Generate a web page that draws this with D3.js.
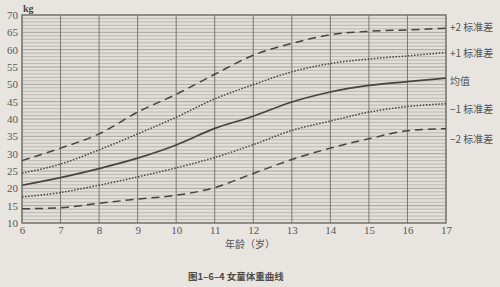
<!DOCTYPE html>
<html>
<head>
<meta charset="utf-8">
<script src="https://cdn.jsdelivr.net/npm/d3@7"></script>
<style>
  html, body { margin: 0; padding: 0; background: #e8e5e0; }
  svg { display: block; }
</style>
</head>
<body>
<svg id="chart" width="500" height="287"></svg>
<script>
// ages 6..17
var ages = [6, 7, 8, 9, 10, 11, 12, 13, 14, 15, 16, 17];

// weight (kg)
var plus2 = [28.0, 31.6, 35.7, 42.0, 47.1, 52.9, 58.4, 61.8, 64.3, 65.3, 65.7, 66.2];
var plus1 = [24.4, 27.0, 31.1, 35.7, 40.5, 45.8, 49.9, 53.6, 56.0, 57.3, 58.2, 59.2];
var mean = [20.9, 23.1, 25.7, 28.7, 32.5, 37.3, 40.8, 44.9, 47.8, 49.7, 50.8, 51.8];
var minus1 = [17.5, 18.8, 20.9, 23.3, 25.9, 28.9, 32.6, 36.7, 39.4, 42.0, 43.6, 44.4];
var minus2 = [14.1, 14.4, 15.7, 16.9, 18.0, 20.2, 24.3, 28.3, 31.6, 34.3, 36.6, 37.2];

var yTicks = [10, 15, 20, 25, 30, 35, 40, 45, 50, 55, 60, 65, 70];
var seriesLabels = ["+2 标准差", "+1 标准差", "均值", "\u22121 标准差", "\u22122 标准差"];
var labelPos = [66.5, 59, 51, 42.8, 34.3];

var svg = d3.select("#chart");
var m = { left: 22, right: 446, top: 15, bottom: 223 };

var x = d3.scaleLinear().domain([6, 17]).range([m.left, m.right]);
var y = d3.scaleLinear().domain([10, 70]).range([m.bottom, m.top]);

var serif = "'Liberation Serif', 'DejaVu Serif', serif";
var cjk = "'Noto Sans CJK SC', sans-serif";

// plot background, a touch darker than the paper
svg.append("rect")
  .attr("x", m.left).attr("y", m.top)
  .attr("width", m.right - m.left).attr("height", m.bottom - m.top)
  .attr("fill", "#e2dfda");

// horizontal grid, 1 kg
var g = svg.append("g");
g.selectAll("line.h")
  .data(d3.range(11, 70))
  .enter().append("line")
  .attr("x1", m.left).attr("x2", m.right)
  .attr("y1", function(d) { return y(d); })
  .attr("y2", function(d) { return y(d); })
  .attr("stroke", function(d) { return d % 5 === 0 ? "#96938e" : "#b0ada8"; })
  .attr("stroke-width", 0.8);

// vertical grid, 1 year
g.selectAll("line.v")
  .data(d3.range(7, 17))
  .enter().append("line")
  .attr("y1", m.top).attr("y2", m.bottom)
  .attr("x1", function(d) { return x(d); })
  .attr("x2", function(d) { return x(d); })
  .attr("stroke", "#7a7773")
  .attr("stroke-width", 1);

svg.append("rect")
  .attr("x", m.left).attr("y", m.top)
  .attr("width", m.right - m.left).attr("height", m.bottom - m.top)
  .attr("fill", "none").attr("stroke", "#6a6763").attr("stroke-width", 1.4);

// axes text
var xAxis = d3.axisBottom(x).tickValues(ages).tickSize(0).tickPadding(3).tickFormat(d3.format("d"));
var xa = svg.append("g").attr("transform", "translate(0," + m.bottom + ")").call(xAxis);
xa.select(".domain").remove();
xa.selectAll("text").attr("font-family", serif).attr("font-size", 11).attr("fill", "#5a5753");

var yAxis = d3.axisLeft(y).tickValues(yTicks).tickSize(0).tickPadding(4);
var ya = svg.append("g").attr("transform", "translate(" + m.left + ",0)").call(yAxis);
ya.select(".domain").remove();
ya.selectAll("text").attr("font-family", serif).attr("font-size", 11).attr("fill", "#5a5753");

svg.append("text").attr("x", 23).attr("y", 12)
  .attr("font-family", serif).attr("font-size", 10).attr("font-weight", "bold")
  .attr("fill", "#4a4743").text("kg");

// curves
var line = d3.line()
  .x(function(d, i) { return x(ages[i]); })
  .y(function(d) { return y(d); })
  .curve(d3.curveMonotoneX);

var curves = [
  { data: plus2, dash: "8,5", w: 1.5 },
  { data: plus1, dash: "1.5,1.6", w: 1.5 },
  { data: mean, dash: null, w: 1.7 },
  { data: minus1, dash: "1.5,1.6", w: 1.5 },
  { data: minus2, dash: "8,5", w: 1.5 }
];

svg.selectAll("path.curve")
  .data(curves)
  .enter().append("path")
  .attr("class", "curve")
  .attr("d", function(c) { return line(c.data); })
  .attr("fill", "none")
  .attr("stroke", "#464340")
  .attr("stroke-width", function(c) { return c.w; })
  .attr("stroke-dasharray", function(c) { return c.dash; });

// series labels on the right
svg.selectAll("text.lbl")
  .data(seriesLabels)
  .enter().append("text")
  .attr("x", 450)
  .attr("y", function(d, i) { return y(labelPos[i]) + 4; })
  .attr("font-family", cjk)
  .attr("font-size", 10)
  .attr("fill", "#55524e")
  .text(function(d) { return d; });

svg.append("text").attr("x", 250).attr("y", 248)
  .attr("text-anchor", "middle")
  .attr("font-family", cjk).attr("font-size", 10).attr("fill", "#55524e")
  .text("年龄（岁）");

svg.append("text").attr("x", 188).attr("y", 280)
  .attr("font-family", cjk).attr("font-size", 9.5).attr("font-weight", "bold")
  .attr("fill", "#4f4c48")
  .text("图1–6–4  女童体重曲线");
</script>
</body>
</html>
